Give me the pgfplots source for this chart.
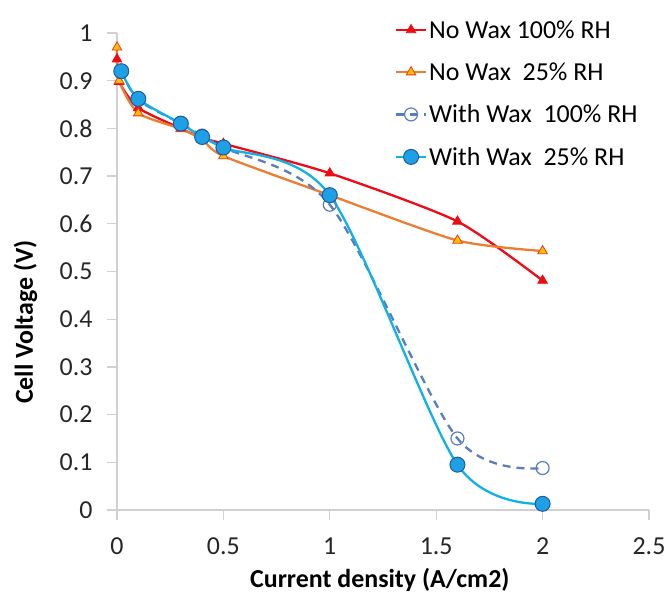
\documentclass[border=0pt]{standalone}
\usepackage{fontspec}
\setmainfont{Carlito}
\usepackage{pgfplots}
\pgfplotsset{compat=1.18}
\definecolor{nwred}{HTML}{F00A14}
\definecolor{nworange}{HTML}{ED7D31}
\definecolor{nwyellow}{HTML}{FFC000}
\definecolor{wwdash}{HTML}{5A7DBE}
\definecolor{wwline}{HTML}{10B0E8}
\definecolor{wwfill}{HTML}{1EA0E6}
\definecolor{wwedge}{HTML}{1F5A9A}
\definecolor{axgray}{HTML}{D0D0D0}
\begin{document}
\begin{tikzpicture}
\begin{axis}[
  scale only axis, width=532bp, height=477bp,
  xmin=0, xmax=2.5, ymin=0, ymax=1,
  xtick={0,0.5,...,2.5}, ytick={0,0.1,...,1},
  axis lines=left, axis line style={axgray,line width=1.3bp,-},
  tick style={axgray,line width=1.3bp}, tick align=outside, major tick length=10bp,
  ticklabel style={font=\fontsize{26}{30}\selectfont, text=black!85},
  yticklabel style={xshift=-11bp},
  xticklabel style={yshift=-14bp},
  /pgf/number format/assume math mode=true,
  xlabel={\textbf{Current density (A/cm2)}},
  ylabel={\textbf{Cell Voltage (V)}},
  label style={font=\fontsize{26}{30}\selectfont},
  xlabel style={at={(axis description cs:0.494,-0.146)},anchor=center},
  ylabel style={at={(axis description cs:-0.172,0.394)},anchor=center},
  legend style={at={(axis description cs:0.522,1.031)},anchor=north west,draw=none,fill=none,
    font=\fontsize{26}{30}\selectfont,row sep=19bp,inner sep=0pt,
    /tikz/every even column/.append style={column sep=3bp}},
  legend cell align=left,
  legend image code/.code={\draw[mark repeat=2,mark phase=2] plot coordinates {(0bp,0bp)(15bp,0bp)(30bp,0bp)};},
  clip=false,
]
\addplot[nwred,line width=2.3bp,smooth,tension=0.4,mark=triangle*,mark size=5.5bp,mark options={fill=nwred,draw=nwred,line width=0.8bp}] coordinates
  {(0,0.945)(0.01,0.898)(0.1,0.843)(0.3,0.80)(0.4,0.780)(0.5,0.768)(1.0,0.706)(1.6,0.605)(2.0,0.481)};
\addplot[nworange,line width=2.3bp,smooth,tension=0.4,mark=triangle*,mark size=5.5bp,mark options={fill=nwyellow,draw=nwred!60!nworange,line width=0.8bp}] coordinates
  {(0,0.970)(0.01,0.900)(0.1,0.832)(0.3,0.799)(0.4,0.777)(0.5,0.742)(1.0,0.660)(1.6,0.565)(2.0,0.543)};
\addplot[wwdash,line width=2.3bp,dash pattern=on 8bp off 6bp,smooth,mark=o,mark size=6.5bp,mark options={solid,draw=wwdash,fill=white,line width=1.2bp}] coordinates
  {(0.02,0.920)(0.1,0.860)(0.3,0.810)(0.4,0.785)(0.5,0.760)(1.0,0.640)(1.6,0.150)(2.0,0.088)};
\addplot[wwline,line width=2.3bp,smooth,mark=*,mark size=7.5bp,mark options={fill=wwfill,draw=wwedge,line width=1bp}] coordinates
  {(0.02,0.920)(0.1,0.862)(0.3,0.810)(0.4,0.782)(0.5,0.760)(1.0,0.660)(1.6,0.095)(2.0,0.013)};
\legend{No Wax 100\% RH,No Wax\ \ 25\% RH,With Wax\ \ 100\% RH,With Wax\ \ 25\% RH}
\coordinate (bbl) at (axis cs:-0.5498,-0.1782);
\coordinate (btr) at (axis cs:2.5940,1.0692);
\end{axis}
\pgfresetboundingbox
\path[use as bounding box] (bbl) rectangle (btr);
\end{tikzpicture}
\end{document}
